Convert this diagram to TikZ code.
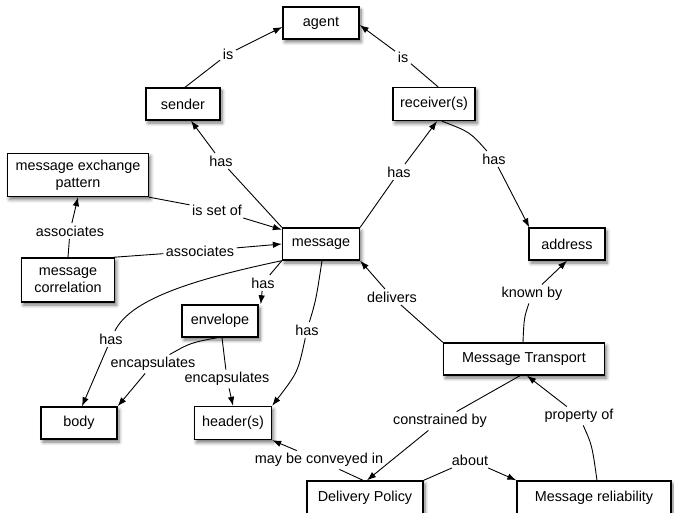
\documentclass[tikz,border=0pt]{standalone}
\usepackage{fontspec}
\setmainfont{Liberation Sans}
\usetikzlibrary{calc,shadows,shadows.blur,arrows.meta}
\begin{document}
\begin{tikzpicture}[x=1pt,y=-1pt,
 every node/.style={font=\fontsize{14.4}{17}\selectfont},
 box/.style={draw, line width=1.4pt, fill=white, inner sep=0pt, minimum height=32pt, align=center,
   blur shadow={shadow xshift=2pt, shadow yshift=-3pt, shadow blur radius=3.5pt, shadow blur steps=6, shadow opacity=55}},
 lbl/.style={inner sep=2.5pt},
 con/.style={line width=0.9pt},
 arr/.style={con, -{Latex[length=9pt,width=6.5pt]}}]
\useasboundingbox (0,0) rectangle (674,513);
% boxes
\node[box, minimum width=76pt] (agent) at (321,23) {agent};
\node[box, minimum width=74pt] (sender) at (183,104) {sender};
\node[box, minimum width=82pt, minimum height=33pt] (receiver) at (434,104) {receiver(s)};
\node[box, minimum width=141pt, minimum height=43pt] (mep) at (78,175) {message exchange\\pattern};
\node[box, minimum width=93pt, minimum height=44pt] (mcorr) at (68,280) {message\\correlation};
\node[box, minimum width=77pt] (message) at (321,244) {message};
\node[box, minimum width=76pt] (address) at (567,244) {address};
\node[box, minimum width=76pt] (envelope) at (220,321) {envelope};
\node[box, minimum width=76pt] (body) at (79,423) {body};
\node[box, minimum width=77pt, minimum height=33pt] (header) at (233,423) {header(s)};
\node[box, minimum width=161pt] (mt) at (524,359) {Message Transport};
\node[box, minimum width=116pt, minimum height=33pt] (dp) at (365,497.5) {Delivery Policy};
\node[box, minimum width=154pt, minimum height=33pt] (mr) at (594,497.5) {Message reliability};
% labels
\node[lbl] (isL) at (228,54) {is};
\node[lbl] (isR) at (403,57) {is};
\node[lbl] (hasS) at (221,161) {has};
\node[lbl] (hasR) at (399,172) {has};
\node[lbl] (hasA) at (494,159) {has};
\node[lbl] (isset) at (217,210) {is set of};
\node[lbl] (assocA) at (70,231) {associates};
\node[lbl] (assocM) at (200,251) {associates};
\node[lbl] (hasE) at (263,283) {has};
\node[lbl] (hasB) at (111,339) {has};
\node[lbl] (hasH) at (307,330) {has};
\node[lbl] (encB) at (153,364) {encapsulates};
\node[lbl] (encH) at (227,379) {encapsulates};
\node[lbl] (deliv) at (392,297) {delivers};
\node[lbl] (known) at (532,294) {known by};
\node[lbl] (conv) at (319,460) {may be conveyed in};
\node[lbl] (constr) at (440,421) {constrained by};
\node[lbl] (about) at (470,460) {about};
\node[lbl] (prop) at (579,416) {property of};
% connectors
\draw[con] ($(sender.north)+(2,0)$) -- (isL);
\draw[arr] (isL) -- ($(agent.west)+(0,4)$);
\draw[con] ($(receiver.north)+(4,0)$) -- (isR);
\draw[arr] (isR) -- ($(agent.east)+(0,2)$);
\draw[con] (message.north west) -- (hasS);
\draw[arr] (hasS) -- ($(sender.south)+(8,0)$);
\draw[con] (message.north east) -- (hasR);
\draw[arr] (hasR) -- ($(receiver.south)+(3,0)$);
\draw[con] ($(receiver.south)+(8,0)$) .. controls (470,132) .. (hasA);
\draw[arr] (hasA) -- ($(address.north west)+(1,0)$);
\draw[con] (mep.south east) -- (isset);
\draw[arr] (isset) -- (message.160);
\draw[con] (mcorr.north) -- (assocA);
\draw[arr] (assocA) -- (mep.south);
\draw[con] ($(mcorr.north east)+(-2,0)$) -- (assocM);
\draw[arr] (assocM) -- (message.west);
\draw[con] (message.south west) -- (hasE);
\draw[arr] (hasE) -- ($(envelope.north east)+(2,0)$);
\draw[con] (message.south west) .. controls (190,280) and (130,300) .. (hasB);
\draw[arr] (hasB) -- ($(body.north)+(3,0)$);
\draw[con] ($(message.south)+(1,0)$) .. controls (316,300) .. (hasH);
\draw[arr] (hasH) .. controls (298,372) .. (header.north east);
\draw[con] ($(envelope.south)+(-3,0)$) .. controls (190,343) .. (encB);
\draw[arr] (encB) -- (body.north east);
\draw[con] ($(envelope.south)+(2,0)$) -- (encH);
\draw[arr] (encH) -- (header.north);
\draw[con] (mt.north west) -- (deliv);
\draw[arr] (deliv) -- (message.south east);
\draw[con] ($(mt.north)+(-1,0)$) .. controls (524,318) .. (known);
\draw[arr] (known) -- (address.south);
\draw[con] ($(dp.north)+(-2,0)$) -- (conv);
\draw[arr] (conv) -- (header.south east);
\draw[con] ($(mt.south)+(-4,0)$) -- (constr);
\draw[arr] (constr) -- ($(dp.north)+(2,0)$);
\draw[con] (dp.north east) -- (about);
\draw[arr] (about) -- (mr.north west);
\draw[con] ($(mr.north)+(3,0)$) .. controls (592,445) .. (prop);
\draw[arr] (prop) -- ($(mt.south)+(3,0)$);
\end{tikzpicture}
\end{document}
